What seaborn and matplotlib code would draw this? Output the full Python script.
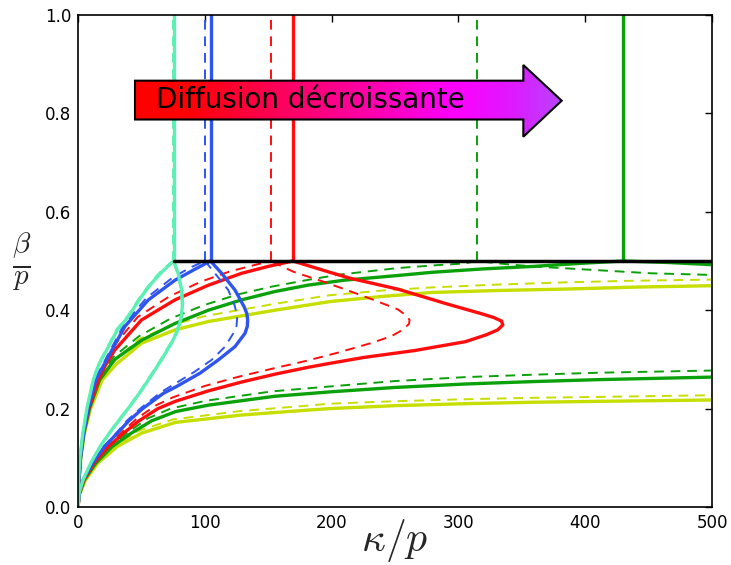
import numpy as np
import pandas as pd
import matplotlib
matplotlib.use("Agg")
import matplotlib.pyplot as plt
import seaborn as sns
from matplotlib.colors import LinearSegmentedColormap
from matplotlib.patches import Polygon

# ---------------- data (kappa/p, beta/p) ----------------
# cyan
cyan_solid_up_k = [0, 0.4, 1.5, 3.8, 7, 12, 16.5, 22.6, 31, 39.7, 49, 58, 67, 75.5]
cyan_solid_up_b = [0, 0.05, 0.1, 0.15, 0.2, 0.258, 0.29, 0.319, 0.36, 0.387, 0.424, 0.455, 0.48, 0.5]
cyan_solid_lo_k = [0, 1, 4, 10, 17.5, 24.7, 32, 41, 50, 58, 66, 73, 78, 81.5, 82.5, 81.5, 79, 75.5]
cyan_solid_lo_b = [0, 0.03, 0.055, 0.089, 0.123, 0.15, 0.175, 0.205, 0.237, 0.268, 0.3, 0.33, 0.355, 0.385, 0.415, 0.445, 0.475, 0.5]
cyan_dash_up_k = [0, 0.4, 1.5, 3.7, 6.9, 11.8, 16.2, 22.3, 30.6, 39.3, 48.5, 57.5, 66.3, 74.7]
cyan_dash_up_b = [0, 0.051, 0.101, 0.152, 0.202, 0.26, 0.292, 0.321, 0.362, 0.389, 0.426, 0.457, 0.482, 0.5]
cyan_dash_lo_k = [0, 1, 4, 10, 17.3, 24.4, 31.6, 40.6, 49.5, 57.4, 65.4, 72.4, 77.4, 80.9, 81.8, 80.8, 78.3, 74.7]
cyan_dash_lo_b = [0, 0.031, 0.056, 0.09, 0.124, 0.151, 0.176, 0.206, 0.238, 0.269, 0.301, 0.331, 0.356, 0.386, 0.416, 0.446, 0.476, 0.5]

# blue
blue_solid_up_k = [0, 0.6, 2, 4.5, 8.2, 14, 24, 37, 55.5, 76.5, 92, 104.5]
blue_solid_up_b = [0, 0.05, 0.1, 0.15, 0.2, 0.258, 0.306, 0.367, 0.421, 0.461, 0.483, 0.5]
blue_solid_lo_k = [0, 1, 4, 11.5, 21, 31, 40, 51, 67.3, 77.8, 96.2, 110.7, 123.8, 131.7, 133.5, 133.8, 133.2,
                   131, 123.8, 113.3, 104.5]
blue_solid_lo_b = [0, 0.028, 0.055, 0.089, 0.123, 0.15, 0.175, 0.2, 0.231, 0.245, 0.272, 0.299, 0.326, 0.353, 0.367, 0.38, 0.393,
                   0.407, 0.441, 0.475, 0.5]
blue_dash_up_k = [0, 0.6, 2, 4.4, 8, 13.7, 23.5, 36, 54, 74, 88, 100]
blue_dash_up_b = [0, 0.051, 0.102, 0.152, 0.203, 0.261, 0.309, 0.37, 0.425, 0.465, 0.486, 0.5]
blue_dash_lo_k = [0, 1, 4, 11.3, 20.6, 30.4, 39.2, 50, 65.8, 75.5, 92, 105.4, 116, 122.5, 125, 125.5, 124.8,
                  123.5, 118.5, 108, 100.2]
blue_dash_lo_b = [0, 0.029, 0.056, 0.09, 0.124, 0.151, 0.177, 0.202, 0.234, 0.249, 0.275, 0.299, 0.326, 0.353, 0.368, 0.383, 0.396,
                  0.41, 0.441, 0.475, 0.5]

# red
red_solid_up_k = [0, 0.6, 1.8, 4.3, 8.6, 16, 22, 29, 50, 76.5, 103, 129, 150, 169.5]
red_solid_up_b = [0, 0.05, 0.1, 0.15, 0.2, 0.258, 0.29, 0.319, 0.38, 0.421, 0.451, 0.475, 0.489, 0.5]
red_solid_lo_k = [0, 1, 4.5, 12.5, 24, 36, 48, 63, 77, 102.8, 129, 155.4, 181.6, 198.7, 225.5, 265.5,
                  305.5, 322, 331, 335, 334, 328, 318, 292, 252, 214.5, 198.7, 169.5]
red_solid_lo_b = [0, 0.027, 0.055, 0.089, 0.123, 0.15, 0.175, 0.2, 0.215, 0.236, 0.254, 0.27, 0.284, 0.292, 0.304, 0.318,
                  0.336, 0.35, 0.36, 0.37, 0.378, 0.385, 0.393, 0.412, 0.443, 0.465, 0.477, 0.5]
red_dash_up_k = [0, 0.6, 1.8, 4.2, 8.3, 15.4, 21.2, 27.5, 47, 72, 97, 120, 138, 152]
red_dash_up_b = [0, 0.051, 0.102, 0.152, 0.203, 0.262, 0.295, 0.325, 0.386, 0.428, 0.458, 0.479, 0.491, 0.5]
red_dash_lo_k = [0, 1, 4.4, 12.2, 23.4, 35, 46.5, 61, 75, 100, 127, 153, 180, 204, 231, 247, 256, 261, 261.5,
                 259, 252, 231, 212, 193.5, 170, 152]
red_dash_lo_b = [0, 0.028, 0.056, 0.09, 0.125, 0.153, 0.18, 0.206, 0.223, 0.246, 0.265, 0.281, 0.297, 0.313, 0.333, 0.347, 0.36, 0.372, 0.38,
                 0.389, 0.402, 0.423, 0.441, 0.458, 0.478, 0.5]

# green
green_solid_up_k = [0, 0.7, 2, 4.6, 9, 17, 29, 50.2, 76.5, 102.8, 129, 155.4, 181.6, 210, 250, 279,
                    320, 359, 395, 430, 465, 500]
green_solid_up_b = [0, 0.05, 0.1, 0.15, 0.2, 0.258, 0.3, 0.339, 0.373, 0.4, 0.421, 0.438, 0.451, 0.461, 0.47, 0.477,
                    0.484, 0.489, 0.495, 0.5, 0.497, 0.4925]
green_solid_lo_k = [0, 1, 5, 14, 27, 42, 58, 77, 102.8, 155, 198.7, 250, 305.5, 360, 412, 500]
green_solid_lo_b = [0, 0.026, 0.055, 0.089, 0.123, 0.15, 0.175, 0.194, 0.207, 0.225, 0.234, 0.243, 0.25, 0.255, 0.259, 0.264]
green_dash_up_k = [0, 0.7, 2, 4.5, 8.7, 16.5, 28, 48, 73, 99, 126, 153, 180, 205, 252, 280, 305, 314,
                   340, 359, 412, 452, 500]
green_dash_up_b = [0, 0.051, 0.102, 0.152, 0.203, 0.262, 0.305, 0.347, 0.383, 0.41, 0.432, 0.448, 0.461, 0.472, 0.4856, 0.491, 0.495, 0.5,
                   0.493, 0.489, 0.481, 0.475, 0.4717]
green_dash_lo_k = [0, 1, 4.9, 13.6, 26, 40, 55, 73, 101, 153, 198.7, 250, 305.5, 360, 412, 500]
green_dash_lo_b = [0, 0.027, 0.056, 0.09, 0.125, 0.153, 0.18, 0.2, 0.216, 0.235, 0.245, 0.256, 0.264, 0.269, 0.273, 0.2774]

# yellow-green
yellow_solid_up_k = [0, 0.8, 2.2, 5, 10, 19, 30, 50.2, 76.5, 102.8, 155.4, 198.7, 240, 278.9, 330, 385.6, 440, 500]
yellow_solid_up_b = [0, 0.05, 0.1, 0.15, 0.2, 0.258, 0.29, 0.333, 0.36, 0.377, 0.4, 0.4175, 0.428, 0.436, 0.44, 0.443, 0.447, 0.4498]
yellow_solid_lo_k = [0, 1, 6, 15.5, 31, 50, 77, 129, 181.6, 198.7, 250, 305.5, 360, 412.3, 500]
yellow_solid_lo_b = [0, 0.025, 0.055, 0.089, 0.123, 0.15, 0.172, 0.187, 0.197, 0.2, 0.206, 0.21, 0.213, 0.2148, 0.2175]
yellow_dash_up_k = [0, 0.8, 2.2, 4.9, 9.7, 18.5, 29, 48, 74, 100, 153, 198.7, 240, 278.9, 330, 385.6, 440, 500]
yellow_dash_up_b = [0, 0.051, 0.102, 0.152, 0.203, 0.263, 0.297, 0.341, 0.37, 0.388, 0.412, 0.4305, 0.44, 0.4463, 0.452, 0.4567, 0.46, 0.4622]
yellow_dash_lo_k = [0, 1, 5.9, 15, 30, 48, 75, 128, 181, 198.7, 250, 305.5, 360, 412.3, 500]
yellow_dash_lo_b = [0, 0.026, 0.056, 0.091, 0.126, 0.155, 0.178, 0.195, 0.206, 0.21, 0.215, 0.219, 0.222, 0.2238, 0.2272]

# critical kappa where each curve meets beta/p = 0.5 (vertical lines up to 1)
crit_names = ["cyan", "blue", "red", "green"]
crit_solid = [75.5, 104.5, 169.5, 430]
crit_dash = [74.7, 100.2, 152, 314.4]
beta_crit = 0.5
beta_top = 1.0
black_line_k = [75.5, 500]

x_ticks = [0, 100, 200, 300, 400, 500]
y_ticks = [0.0, 0.2, 0.4, 0.6, 0.8, 1.0]
arrow_text = "Diffusion décroissante"

colors = {"cyan": "#5cf0b4", "blue": "#2f55ef", "red": "#ff0d0d",
          "green": "#0aa10a", "yellow": "#c6de00"}

curves = {
    "yellow": [(yellow_solid_up_k, yellow_solid_up_b, yellow_solid_lo_k, yellow_solid_lo_b),
               (yellow_dash_up_k, yellow_dash_up_b, yellow_dash_lo_k, yellow_dash_lo_b)],
    "green": [(green_solid_up_k, green_solid_up_b, green_solid_lo_k, green_solid_lo_b),
              (green_dash_up_k, green_dash_up_b, green_dash_lo_k, green_dash_lo_b)],
    "red": [(red_solid_up_k, red_solid_up_b, red_solid_lo_k, red_solid_lo_b),
            (red_dash_up_k, red_dash_up_b, red_dash_lo_k, red_dash_lo_b)],
    "blue": [(blue_solid_up_k, blue_solid_up_b, blue_solid_lo_k, blue_solid_lo_b),
             (blue_dash_up_k, blue_dash_up_b, blue_dash_lo_k, blue_dash_lo_b)],
    "cyan": [(cyan_solid_up_k, cyan_solid_up_b, cyan_solid_lo_k, cyan_solid_lo_b),
             (cyan_dash_up_k, cyan_dash_up_b, cyan_dash_lo_k, cyan_dash_lo_b)],
}

# ---------------- style ----------------
sns.set_theme(style="white")
plt.rcParams.update({
    "font.family": ["DejaVu Sans"],
    "mathtext.fontset": "cm",
    "xtick.direction": "in", "ytick.direction": "in",
    "xtick.top": True, "ytick.right": True,
    "xtick.major.size": 5, "ytick.major.size": 5,
    "xtick.major.width": 1, "ytick.major.width": 1,
    "xtick.color": "black", "ytick.color": "black",
    "axes.edgecolor": "black", "axes.linewidth": 1.2,
    "lines.solid_joinstyle": "round",
})

fig = plt.figure(figsize=(7.31, 5.65), dpi=100)
ax = fig.add_axes([78 / 731, 58 / 565, 634 / 731, 492 / 565])

solid_lw = 2.4
dash_lw = 1.4
dash_style = (0, (5, 3.5))

for name, (solid, dashed) in curves.items():
    c = colors[name]
    for k, b in [(solid[0], solid[1]), (solid[2], solid[3])]:
        sns.lineplot(x=k, y=b, sort=False, estimator=None, color=c, lw=solid_lw, ax=ax)
    for k, b in [(dashed[0], dashed[1]), (dashed[2], dashed[3])]:
        sns.lineplot(x=k, y=b, sort=False, estimator=None, color=c, lw=dash_lw,
                     linestyle=dash_style, ax=ax)

for name, ks, kd in zip(crit_names, crit_solid, crit_dash):
    c = colors[name]
    sns.lineplot(x=[ks, ks], y=[beta_crit, beta_top], sort=False, estimator=None,
                 color=c, lw=solid_lw, ax=ax)
    sns.lineplot(x=[kd, kd], y=[beta_crit, beta_top], sort=False, estimator=None,
                 color=c, lw=dash_lw, linestyle=dash_style, ax=ax)

sns.lineplot(x=black_line_k, y=[beta_crit, beta_crit], sort=False, estimator=None,
             color="black", lw=2.5, ax=ax)

ax.set_xlim(0, 500)
ax.set_ylim(0, 1)
ax.set_xticks(x_ticks)
ax.set_yticks(y_ticks)
ax.set_yticklabels([f"{v:.1f}" for v in y_ticks])
ax.tick_params(labelsize=12, pad=5)

ax.set_xlabel(r"$\kappa/p$", fontsize=30, va="center")
ax.set_ylabel(r"$\frac{\beta}{p}$", fontsize=30, rotation=0, va="center", ha="center")
ax.xaxis.set_label_coords(0.5, -0.068)
ax.yaxis.set_label_coords(-0.089, 0.497)

# ---------------- gradient arrow (axes coords) ----------------
bx0, bx1 = 0.0899, 0.7024
by0, by1 = 0.7876, 0.8665
hy0, hy1 = 0.7526, 0.8984
tipx, tipy = 0.7629, 0.8258
verts = [(bx0, by0), (bx1, by0), (bx1, hy0), (tipx, tipy), (bx1, hy1), (bx1, by1), (bx0, by1)]
arrow = Polygon(verts, closed=True, transform=ax.transAxes, facecolor="none",
                edgecolor="black", lw=1.5, zorder=6)
ax.add_patch(arrow)
cmap = LinearSegmentedColormap.from_list(
    "arr", [(0.0, "#ff0000"), (0.12, "#ff0004"), (0.35, "#ff0060"),
            (0.6, "#ff00c0"), (0.75, "#ff00ff"), (0.88, "#e018ff"), (1.0, "#b844ff")])
grad = np.linspace(0, 1, 256).reshape(1, -1)
im = ax.imshow(grad, extent=[bx0, tipx, hy0, hy1], transform=ax.transAxes,
               aspect="auto", cmap=cmap, zorder=5, interpolation="bicubic")
clip = Polygon(verts, closed=True, transform=ax.transAxes, facecolor="none", edgecolor="none")
ax.add_patch(clip)
im.set_clip_path(clip)
ax.text(0.123, 0.827, arrow_text, transform=ax.transAxes, fontsize=20,
        va="center", ha="left", color="black", zorder=7)

ax.set_xlim(0, 500)
ax.set_ylim(0, 1)

fig.savefig("out.png", dpi=100)
